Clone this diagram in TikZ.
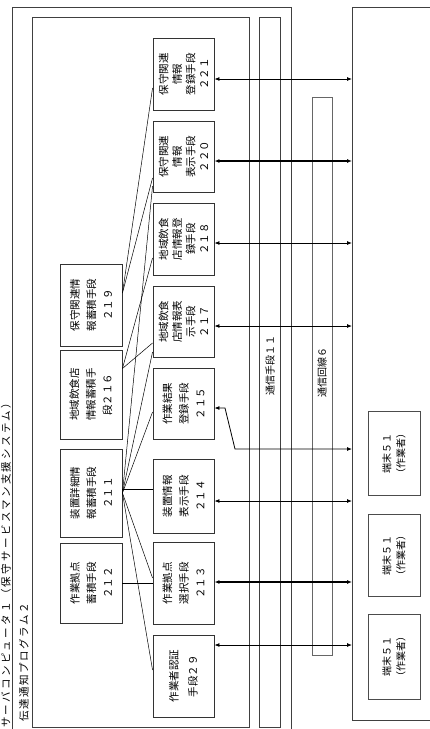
\documentclass[tikz,border=0pt]{standalone}
\usepackage{fontspec}
\setmainfont{Noto Sans CJK JP}
\usetikzlibrary{arrows.meta}
\begin{document}
\begin{tikzpicture}[x=1pt,y=-1pt,
  frame/.style={draw=black!75, line width=0.9pt},
  box/.style={draw=black!80, line width=0.9pt, rotate=90, inner sep=0pt, align=center, font=\fontsize{10.5}{13.5}\selectfont},
  tbox/.style={draw=black!70, line width=0.8pt, rotate=90, inner sep=0pt, align=center, font=\fontsize{10}{14}\selectfont},
  dbl/.style={line width=0.8pt, {Latex[length=5pt,width=4pt]}-{Latex[length=5pt,width=4pt]}},
  fan/.style={line width=0.5pt},
  lbl/.style={rotate=90, inner sep=0pt}]
\useasboundingbox (0,0) rectangle (430,729);
% outer frames
\draw[frame] (12,735) -- (12,7) -- (291,7) -- (291,735);
\node[draw=black!75, line width=0.9pt, minimum width=217pt, minimum height=710pt, inner sep=0pt, anchor=north west] (prog) at (32,17) {};
\node[draw=black!75, line width=0.9pt, minimum width=21pt, minimum height=710pt, inner sep=0pt, anchor=north west] (comm) at (259,17) {};
\node[draw=black!60, line width=0.7pt, minimum width=20pt, minimum height=558pt, inner sep=0pt, anchor=north west] (line6) at (312,97) {};
\draw[frame] (445,7) -- (352,7) coordinate (tw) -- (352,720) -- (445,720);
% labels
\node[lbl, anchor=west, font=\fontsize{10.5}{13}\selectfont\addfontfeatures{LetterSpace=22}] (srv) at (6,728) {サーバコンピュータ１（保守サービスマン支援システム）};
\node[lbl, anchor=west, font=\fontsize{10.5}{13}\selectfont\addfontfeatures{LetterSpace=15}] (prg) at (24,722) {伝達通知プログラム２};
\node[lbl, font=\fontsize{10}{12}\selectfont] (c11) at (270,365) {通信手段１１};
\node[lbl, font=\fontsize{10}{12}\selectfont] (c6) at (322,372) {通信回線６};
% lower boxes
\node[box, minimum width=72pt, minimum height=61pt] (b221) at (183.5,74) {保守関連\\情報\\登録手段\\２２１};
\node[box, minimum width=71pt, minimum height=61pt] (b220) at (183.5,156.5) {保守関連\\情報\\表示手段\\２２０};
\node[box, minimum width=72pt, minimum height=61pt] (b218) at (183.5,239) {地域飲食\\店情報登\\録手段\\２１８};
\node[box, minimum width=71pt, minimum height=61pt] (b217) at (183.5,321.5) {地域飲食\\店情報表\\示手段\\２１７};
\node[box, minimum width=71pt, minimum height=61pt, font=\fontsize{10.5}{16.5}\selectfont] (b215) at (183.5,403.5) {作業結果\\登録手段\\２１５};
\node[box, minimum width=74pt, minimum height=61pt, font=\fontsize{10.5}{16.5}\selectfont] (b214) at (183.5,496) {装置情報\\表示手段\\２１４};
\node[box, minimum width=82pt, minimum height=61pt, font=\fontsize{10.5}{16.5}\selectfont] (b213) at (183.5,583) {作業拠点\\選択手段\\２１３};
\node[box, minimum width=82pt, minimum height=61pt, font=\fontsize{10.5}{19}\selectfont] (b209) at (183.5,676) {作業者認証\\手段２９};
% upper boxes
\node[box, minimum width=82pt, minimum height=62pt, font=\fontsize{10.5}{16.5}\selectfont] (b219) at (91,305) {保守関連情\\報蓄積手段\\２１９};
\node[box, minimum width=89pt, minimum height=62pt, font=\fontsize{10.5}{16.5}\selectfont] (b216) at (91,394.5) {地域飲食店\\情報蓄積手\\段２１６};
\node[box, minimum width=88pt, minimum height=62pt, font=\fontsize{10.5}{16.5}\selectfont] (b211) at (91,493) {装置詳細情\\報蓄積手段\\２１１};
\node[box, minimum width=80pt, minimum height=62pt, font=\fontsize{10.5}{16.5}\selectfont] (b212) at (91,583) {作業拠点\\蓄積手段\\２１２};
% terminals
\node[tbox, minimum width=84pt, minimum height=52pt] (t1) at (394,453) {端末５１\\（作業者）};
\node[tbox, minimum width=82pt, minimum height=52pt] (t2) at (394,555) {端末５１\\（作業者）};
\node[tbox, minimum width=85pt, minimum height=52pt] (t3) at (394,656.5) {端末５１\\（作業者）};
% fan connections
\draw[fan] (b212.south) -- (b213.north);
\draw[fan] (b211.south |- 0,489) -- (b214.north |- 0,489);
\draw[fan] (b211.south) -- (b213.north |- 0,578);
\draw[fan] (b211.south) -- (b209.north |- 0,670);
\draw[fan] (b211.south) -- (b215.north |- 0,412);
\draw[fan] (b211.south) -- (b217.north |- 0,352);
\draw[fan] (b211.south) -- (b220.north |- 0,186);
\draw[fan] ([yshift=12pt]b219.south) -- (b221.north |- 0,88);
\draw[fan] ([yshift=12pt]b219.south) -- (b220.north |- 0,178);
\draw[fan] ([yshift=26pt]b216.south) -- (b218.north |- 0,258);
\draw[fan] ([yshift=26pt]b216.south) -- (b217.north |- 0,343);
% arrows to terminals
\draw[dbl] (b221.south |- 0,79) -- (tw |- 0,79);
\draw[dbl, line width=1.1pt] (b220.south |- 0,161) -- (tw |- 0,161);
\draw[dbl] (b218.south |- 0,243) -- (tw |- 0,243);
\draw[dbl] (b217.south |- 0,326) -- (tw |- 0,326);
\draw[dbl] (b215.south |- 0,408) -- (225,408) -- (235,449) -- (tw |- 0,449);
\draw[dbl] (b214.south |- 0,501) -- (tw |- 0,501);
\draw[dbl, line width=1.1pt] (b213.south |- 0,582) -- (tw |- 0,582);
\draw[dbl] (b209.south |- 0,645) -- (tw |- 0,645);
\end{tikzpicture}
\end{document}
